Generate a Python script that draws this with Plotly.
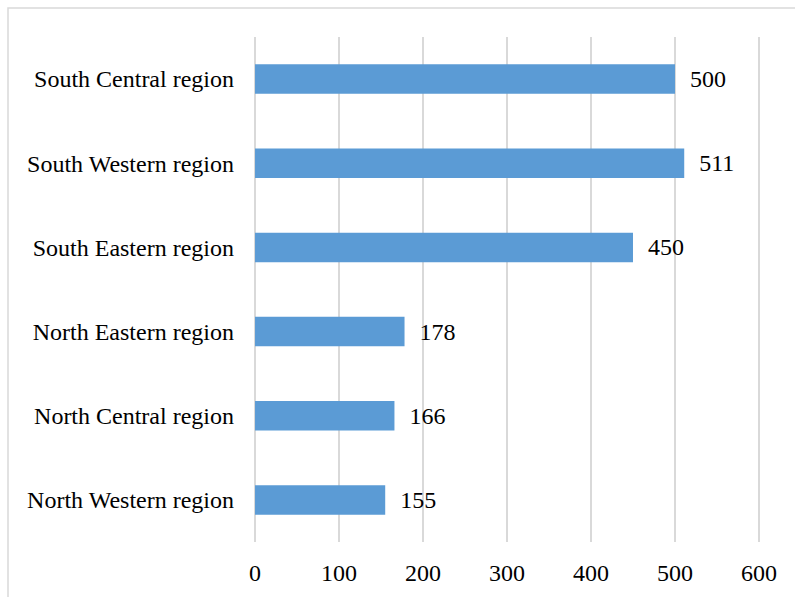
import plotly.graph_objects as go

categories = ["North Western region", "North Central region", "North Eastern region",
              "South Eastern region", "South Western region", "South Central region"]
values = [155, 166, 178, 450, 511, 500]
tick_vals = [0, 100, 200, 300, 400, 500, 600]

W, H = 795, 597
L, R, T, B = 253, 34, 37, 55
pw, ph = W - L - R, H - T - B
FS = 24

fig = go.Figure(go.Bar(
    x=values, y=categories, orientation="h",
    marker=dict(color="#5B9BD5", line=dict(width=0)),
    width=0.35,
    text=["\u00a0\u00a0" + str(v) for v in values], textposition="outside",
    textfont=dict(family="Liberation Serif", size=FS, color="black"),
    cliponaxis=False,
))

fig.update_layout(
    width=W, height=H,
    margin=dict(l=L, r=R, t=T, b=B),
    paper_bgcolor="white", plot_bgcolor="white",
    showlegend=False,
    font=dict(family="Liberation Serif", size=FS, color="black"),
    xaxis=dict(range=[-2.4, 602.4], tickvals=tick_vals, showgrid=True,
               gridcolor="#d9d9d9", gridwidth=1.5, zeroline=False,
               showline=False, ticks="", ticklabelstandoff=14,
               tickfont=dict(family="Liberation Serif", size=FS, color="black")),
    yaxis=dict(categoryorder="array", categoryarray=categories,
               showgrid=False, zeroline=False, showline=False, ticks="",
               ticklabelstandoff=18,
               tickfont=dict(family="Liberation Serif", size=FS, color="black")),
    shapes=[dict(type="rect", xref="paper", yref="paper",
                 x0=(8 - L) / pw, x1=(W + 20 - L) / pw,
                 y0=-(B + 20) / ph, y1=1 + (T - 8) / ph,
                 line=dict(color="#d9d9d9", width=1.5), layer="below")],
)

fig.write_html("out.html")
